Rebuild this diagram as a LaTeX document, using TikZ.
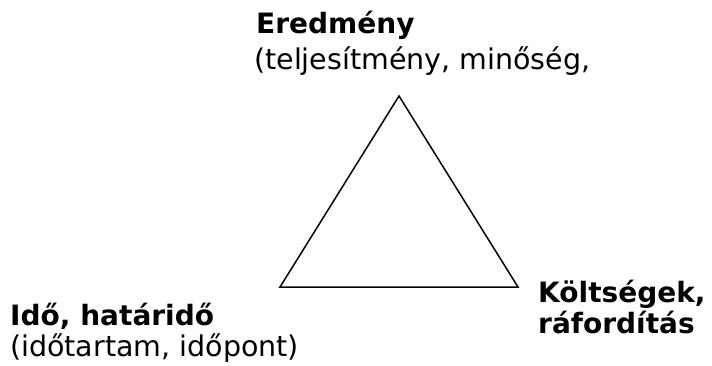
\documentclass[tikz,border=0pt]{standalone}
\usepackage{fontspec}
\setmainfont{DejaVu Sans}
\usetikzlibrary{positioning}

\begin{document}
\begin{tikzpicture}[
    x=1pt, y=-1pt,
    every node/.style={inner sep=0pt, anchor=base west,
                       font=\fontsize{28.5}{34}\selectfont},
    head/.style={font=\fontsize{28}{34}\selectfont\bfseries},
    sub/.style={},
    edge/.style={draw=black, line width=1.5pt, line join=miter},
]
\useasboundingbox (0,0) rectangle (712,365);

% Corners of the triangle
\coordinate (apex)  at (399,96);
\coordinate (left)  at (280,287);
\coordinate (right) at (518,287);

\draw[edge] (apex) -- (left) -- (right) -- cycle;

% Top label
\node[head] (result) at (256,33) {Eredmény};
\node[sub]  (resultd) at (254,69) {(teljesítmény, minőség,};

% Left label
\node[head] (time) at (10,325) {Idő, határidő};
\node[sub]  (timed) at (10,356) {(időtartam, időpont)};

% Right label
\node[head] (cost) at (538,302) {Költségek,};
\node[head] (costd) at (538,333) {ráfordítás};

\end{tikzpicture}
\end{document}
